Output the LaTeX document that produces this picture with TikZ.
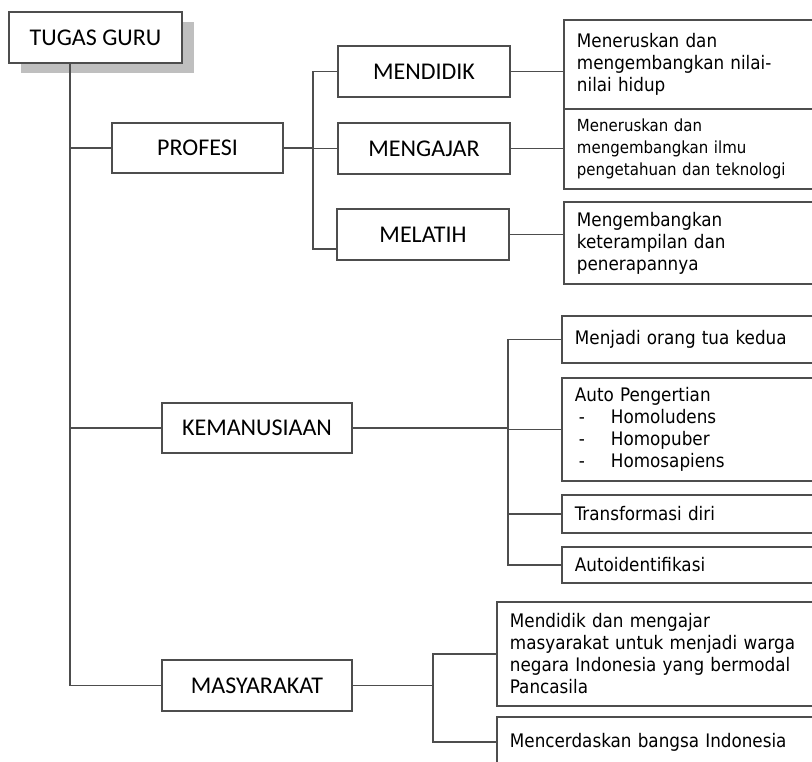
\documentclass[tikz,border=0pt]{standalone}
\usepackage{fontspec}
\setmainfont{Carlito}
\newfontfamily\boxfont{DejaVu Sans Condensed}
\usetikzlibrary{shadows}
\definecolor{linegray}{HTML}{4D4D4D}
\definecolor{shadegray}{HTML}{BFBFBF}

\begin{document}
\begin{tikzpicture}[x=0.75pt, y=-0.75pt,
    wire/.style = {draw=linegray, line width=1.4pt},
    main/.style = {draw=linegray, line width=1.4pt, rectangle, inner sep=0pt, font=\fontsize{18}{21}\selectfont},
    info/.style = {draw=linegray, line width=1.4pt, anchor=west, text width=228pt, inner xsep=9.75pt, inner ysep=0pt, align=left, font=\boxfont\fontsize{14}{16.5}\selectfont}]
    \useasboundingbox (0,0) rectangle (812,762);
    \clip (0,0) rectangle (812,762);
    % left column
    \node[main, minimum width=129.75pt, minimum height=38.25pt, drop shadow={shadow xshift=9pt, shadow yshift=-7.5pt, fill=shadegray, opacity=1}, fill=white] (tugas) at (95.5,37.5) {TUGAS GURU};
    \node[main, minimum width=128.25pt, minimum height=37.5pt] (profesi) at (197.5,148) {PROFESI};
    \node[main, minimum width=142.5pt, minimum height=37.5pt] (kemanusiaan) at (257,428) {KEMANUSIAAN};
    \node[main, minimum width=142.5pt, minimum height=38.25pt] (masyarakat) at (257,685.5) {MASYARAKAT};
    % profesi
    \node[main, minimum width=129pt, minimum height=38.25pt] (mendidik) at (424,71.5) {MENDIDIK};
    \node[main, minimum width=129pt, minimum height=38.25pt] (mengajar) at (424,148.5) {MENGAJAR};
    \node[main, minimum width=129pt, minimum height=38.25pt] (melatih) at (423,234.5) {MELATIH};
    \node[info, minimum height=66.75pt] (r1) at (563,64.5) {Meneruskan dan\\mengembangkan nilai-\\nilai hidup};
    \node[info, minimum height=60pt, font=\boxfont\fontsize{12.5}{16.5}\selectfont] (r2) at (563,149) {Meneruskan dan\\mengembangkan ilmu\\pengetahuan dan teknologi};
    \node[info, minimum height=61.5pt] (r3) at (563,243) {Mengembangkan\\keterampilan dan\\penerapannya};
    % kemanusiaan
    \node[info, minimum height=35.25pt] (k1) at (561,339.5) {Menjadi orang tua kedua};
    \node[info, minimum height=77.25pt] (k2) at (561,429.5) {Auto Pengertian\\
        \makebox[27pt][l]{\hspace{3pt}-}Homoludens\\
        \makebox[27pt][l]{\hspace{3pt}-}Homopuber\\
        \makebox[27pt][l]{\hspace{3pt}-}Homosapiens};
    \node[info, minimum height=28.5pt] (k3) at (561,514) {Transformasi diri};
    \node[info, minimum height=27pt] (k4) at (561,565) {Autoidentifikasi};
    % masyarakat
    \node[info, minimum height=78pt] (m1) at (496,654) {Mendidik dan mengajar\\masyarakat untuk menjadi warga\\negara Indonesia yang bermodal\\Pancasila};
    \node[info, minimum height=37.5pt] (m2) at (496,742) {Mencerdaskan bangsa Indonesia};
    % buses
    \coordinate (trunk) at (70,0);
    \coordinate (pbus) at (313,0);
    \coordinate (kbus) at (508,0);
    \coordinate (mbus) at (433,0);
    \coordinate (melatihlow) at ([yshift=-10.9pt]melatih.west);
    % connectors
    \draw[wire] (tugas.south -| trunk) |- (masyarakat.west);
    \draw[wire] (trunk |- profesi.west) -- (profesi.west);
    \draw[wire] (trunk |- kemanusiaan.west) -- (kemanusiaan.west);
    \draw[wire] (profesi.east) -- (pbus |- profesi.east);
    \draw[wire] (mendidik.west) -| (pbus |- melatihlow) -- (melatihlow);
    \draw[wire] (pbus |- mengajar.west) -- (mengajar.west);
    \draw[wire] (mendidik.east) -- (mendidik.east -| r1.west);
    \draw[wire] (mengajar.east) -- (mengajar.east -| r2.west);
    \draw[wire] (melatih.east) -- (melatih.east -| r3.west);
    \draw[wire] (kemanusiaan.east) -- (kbus |- kemanusiaan.east);
    \draw[wire] (k1.west) -| (kbus |- k4.west) -- (k4.west);
    \draw[wire] (kbus |- k2.west) -- (k2.west);
    \draw[wire] (kbus |- k3.west) -- (k3.west);
    \draw[wire] (masyarakat.east) -- (mbus |- masyarakat.east);
    \draw[wire] (m1.west) -| (mbus |- m2.west) -- (m2.west);
\end{tikzpicture}
\end{document}
